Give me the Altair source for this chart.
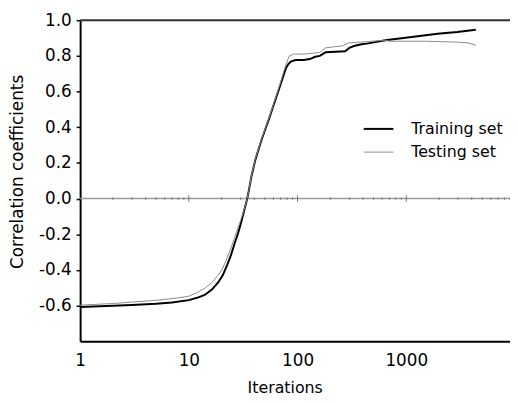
import altair as alt
import pandas as pd

series_names = ["Training set", "Testing set"]

train_iter = [1, 2, 3, 5, 7, 10, 11.9, 14, 16.3, 18.6, 20.5, 22.3, 24.3, 26.4, 28.5, 30.6, 32.3, 34.1,
              35.5, 37.6, 41, 46.4, 55.2, 68, 78, 82, 86.6, 96, 114, 130, 145, 160, 181, 224, 274,
              300, 330, 388, 448, 640, 1030, 1940, 2940, 4360]
train_val = [-0.608, -0.601, -0.596, -0.589, -0.582, -0.569, -0.556, -0.540, -0.510, -0.470,
             -0.430, -0.378, -0.320, -0.250, -0.190, -0.122, -0.065, -0.010,
             0.040, 0.123, 0.220, 0.326, 0.455, 0.620, 0.730, 0.753, 0.768, 0.777, 0.777,
             0.782, 0.795, 0.800, 0.820, 0.823, 0.826,
             0.845, 0.855, 0.865, 0.870, 0.888, 0.903, 0.924, 0.934, 0.946]

test_iter = [1, 2, 5, 8, 10, 11.9, 14, 16.3, 18.6, 20.5, 22.3, 24.3, 26.4, 28.5, 30.6, 32.3, 34.1,
             35.5, 37.6, 41, 46.4, 55.2, 68, 78, 84, 93, 114, 136, 160, 181, 224, 258, 294,
             400, 636, 700, 1500, 3000, 3700, 4360]
test_val = [-0.597, -0.588, -0.570, -0.556, -0.547, -0.527, -0.503, -0.470, -0.430, -0.390,
            -0.337, -0.280, -0.217, -0.160, -0.105, -0.060, -0.010,
            0.040, 0.125, 0.225, 0.330, 0.460, 0.630, 0.750, 0.800, 0.810, 0.810, 0.814,
            0.820, 0.845, 0.852, 0.856, 0.873,
            0.878, 0.888, 0.882, 0.882, 0.877, 0.873, 0.860]

x_label_values = [1, 10, 100, 1000]
y_label_values = [-0.6, -0.4, -0.2, 0.0, 0.2, 0.4, 0.6, 0.8, 1.0]
major_ticks = [10, 100, 1000]
minor_ticks = [m * 10 ** e for e in range(4) for m in range(2, 10)]

FONT = "DejaVu Sans"

df = pd.concat([
    pd.DataFrame({"iter": train_iter, "val": train_val, "series": series_names[0], "order": 1}),
    pd.DataFrame({"iter": test_iter, "val": test_val, "series": series_names[1], "order": 0}),
])

xscale = alt.Scale(type="log", domain=[1, 9000], nice=False)
yscale = alt.Scale(domain=[-0.8, 1.0], nice=False, zero=False)

x_axis = alt.Axis(values=x_label_values, format="d", ticks=False, grid=False,
                  domainWidth=2, domainColor="black", labelFontSize=17, labelFont=FONT,
                  labelPadding=11, labelColor="black", labelFlush=False,
                  title="Iterations", titleFont=FONT, titleFontSize=16, titleFontWeight="normal",
                  titleColor="black", titleBaseline="alphabetic", titleX=207, titleY=52)
y_axis = alt.Axis(values=y_label_values, grid=False, tickSize=4, tickColor="black", tickWidth=1.5,
                  domainWidth=2, domainColor="black", labelFontSize=17, labelFont=FONT,
                  labelPadding=5, labelColor="black",
                  labelExpr="replace(format(datum.value, '.1f'), '\u2212', '-')",
                  title="Correlation coefficients", titleFont=FONT, titleFontSize=17,
                  titleFontWeight="normal", titleColor="black", titleX=-63, titleY=153,
                  titleAngle=-90, titleBaseline="middle", titleAlign="center")

zero_line = alt.Chart(pd.DataFrame({"y": [0.0]})).mark_rule(color="#9a9a9a", strokeWidth=1.5).encode(
    y=alt.Y("y:Q", scale=yscale, axis=y_axis)
)
top_line = alt.Chart(pd.DataFrame({"y": [1.0]})).mark_rule(color="#333333", strokeWidth=2).encode(
    y=alt.Y("y:Q", scale=yscale)
)
major = alt.Chart(pd.DataFrame({"t": major_ticks, "y": 0.0})).mark_tick(
    orient="vertical", size=7, thickness=1, color="#444444").encode(
    x=alt.X("t:Q", scale=xscale), y=alt.Y("y:Q", scale=yscale)
)
minor = alt.Chart(pd.DataFrame({"t": minor_ticks, "y": 0.0})).mark_tick(
    orient="vertical", size=3, thickness=1, color="#666666").encode(
    x=alt.X("t:Q", scale=xscale), y=alt.Y("y:Q", scale=yscale)
)

lines = alt.Chart(df).mark_line(interpolate="linear").encode(
    x=alt.X("iter:Q", scale=xscale, axis=x_axis),
    y=alt.Y("val:Q", scale=yscale),
    color=alt.Color("series:N", scale=alt.Scale(domain=series_names, range=["#000000", "#8a8a8a"]),
                    legend=alt.Legend(title=None, orient="none", legendX=286, legendY=94,
                                      symbolType="stroke", symbolSize=900, symbolStrokeWidth=1.5,
                                      labelFont=FONT, labelFontSize=16, labelColor="black",
                                      labelOffset=17, rowPadding=-6, padding=0)),
    strokeWidth=alt.StrokeWidth("series:N", scale=alt.Scale(domain=series_names, range=[2, 1]),
                                legend=None),
    order="order:Q",
)

chart = alt.layer(zero_line, top_line, minor, major, lines).properties(
    width=435, height=325,
    padding={"left": 73, "top": 10, "right": 0, "bottom": 56},
    autosize=alt.AutoSizeParams(type="none"),
).configure_view(stroke=None).configure(background="white")

chart.save("out.html", embed_options={"renderer": "svg", "actions": False})
